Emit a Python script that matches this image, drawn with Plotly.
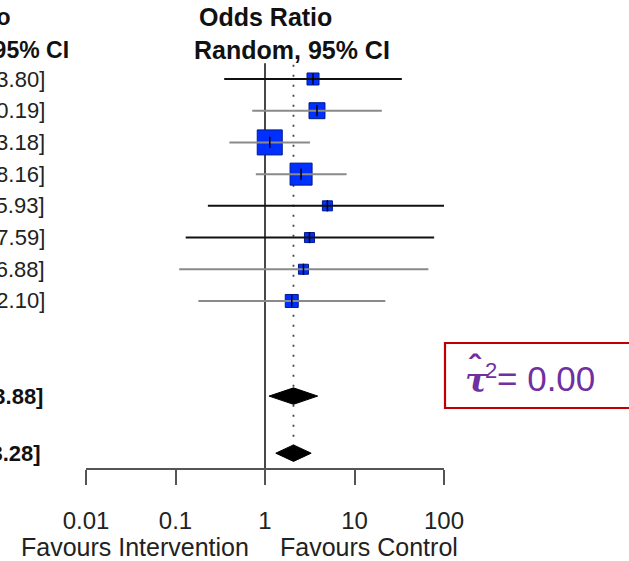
import math
import plotly.graph_objects as go

# ---------------- data ----------------
study_est = [3.44, 3.81, 1.13, 2.53, 4.98, 3.14, 2.69, 1.99]
study_lower = [0.35, 0.72, 0.40, 0.79, 0.23, 0.13, 0.11, 0.18]
study_upper = [33.80, 20.19, 3.18, 8.16, 105.93, 77.59, 66.88, 22.10]
study_weight = [7.3, 12.9, 31.6, 24.5, 5.1, 5.1, 5.1, 8.5]   # % weight

pooled_est = [2.08, 2.08]
pooled_lower = [1.11, 1.32]
pooled_upper = [3.88, 3.28]

tick_vals = [0.01, 0.1, 1, 10, 100]
tick_text = ["0.01", "0.1", "1", "10", "100"]
label_left = "Favours Intervention"
label_right = "Favours Control"
tau2_text = "0.00"

# ---------------- layout helpers ----------------
W, H = 629, 561
FONT = "Liberation Sans, Arial, Helvetica, sans-serif"
study_rows = list(range(1, len(study_est) + 1))
pooled_rows = [11, 12.8]
ci_colors = ["#111111", "#8a8a8a", "#8a8a8a", "#8a8a8a", "#111111", "#111111", "#8a8a8a", "#8a8a8a"]

row0_px, row_step = 79.0, 31.71
y_range = [1 + (H - row0_px) / row_step, 1 - row0_px / row_step]

fig = go.Figure()

# reference line at OR = 1
fig.add_trace(go.Scatter(x=[1, 1], y=[0.5, 13.3], mode="lines",
                         line=dict(color="#333333", width=1.8), hoverinfo="skip"))
# pooled estimate dotted line
fig.add_trace(go.Scatter(x=[pooled_est[0]] * 2, y=[0.55, 12.55], mode="lines",
                         line=dict(color="#444444", width=1.8, dash="2px,8px"), hoverinfo="skip"))

# squares
sizes = [4.45 * math.sqrt(w) for w in study_weight]
fig.add_trace(go.Scatter(x=study_est, y=study_rows, mode="markers",
                         marker=dict(symbol="square", size=sizes, color="#0030ff", opacity=1,
                                     line=dict(color="#001a8c", width=1)),
                         hoverinfo="skip"))
# CI lines
for r, lo, hi, c in zip(study_rows, study_lower, study_upper, ci_colors):
    fig.add_trace(go.Scatter(x=[lo, hi], y=[r, r], mode="lines",
                             line=dict(color=c, width=2), hoverinfo="skip"))
# estimate ticks
fig.add_trace(go.Scatter(x=study_est, y=study_rows, mode="markers",
                         marker=dict(symbol="line-ns", size=8, opacity=1,
                                     line=dict(color="#000000", width=1.5)),
                         hoverinfo="skip"))
# diamonds
dh = 0.26
for r, e, lo, hi in zip(pooled_rows, pooled_est, pooled_lower, pooled_upper):
    fig.add_trace(go.Scatter(x=[lo, e, hi, e, lo], y=[r, r - dh, r, r + dh, r],
                             mode="lines", fill="toself", fillcolor="#000000",
                             line=dict(color="#000000", width=1), hoverinfo="skip"))

ann = []
# left column texts (cut off by the figure edge)
for r, e, lo, hi in zip(study_rows, study_est, study_lower, study_upper):
    ann.append(dict(xref="paper", yref="y", x=47 / W, y=r, xanchor="right", yanchor="middle",
                    text=f"{e:.2f} [{lo:.2f}; {hi:.2f}]", showarrow=False,
                    font=dict(size=22, color="#222222", family=FONT)))
for r, e, lo, hi, xp in zip(pooled_rows, pooled_est, pooled_lower, pooled_upper, [45, 43]):
    ann.append(dict(xref="paper", yref="y", x=xp / W, y=r, xanchor="right", yanchor="middle",
                    text=f"<b>{e:.2f} [{lo:.2f}; {hi:.2f}]</b>", showarrow=False,
                    font=dict(size=22, color="#111111", family=FONT)))
ann.append(dict(xref="paper", yref="y", x=13 / W, y=-0.95, xanchor="right", yanchor="middle",
                text="<b>Odds Ratio</b>", showarrow=False,
                font=dict(size=23, color="#111111", family=FONT)))
ann.append(dict(xref="paper", yref="y", x=71 / W, y=0.09, xanchor="right", yanchor="middle",
                text="<b>OR        95% CI</b>", showarrow=False,
                font=dict(size=23, color="#111111", family=FONT)))
# plot header
ann.append(dict(xref="paper", yref="y", x=265 / W, y=-0.95, xanchor="center", yanchor="middle",
                text="<b>Odds Ratio</b>", showarrow=False,
                font=dict(size=25, color="#111111", family=FONT)))
ann.append(dict(xref="paper", yref="y", x=291.5 / W, y=0.09, xanchor="center", yanchor="middle",
                text="<b>Random, 95% CI</b>", showarrow=False,
                font=dict(size=25, color="#111111", family=FONT)))
# favours labels
ann.append(dict(xref="x", yref="paper", x=0, y=1 - 547 / H, xanchor="right", yanchor="middle",
                xshift=-14, text=label_left, showarrow=False,
                font=dict(size=25, color="#222222", family=FONT)))
ann.append(dict(xref="x", yref="paper", x=0, y=1 - 547 / H, xanchor="left", yanchor="middle",
                xshift=13, text=label_right, showarrow=False,
                font=dict(size=25, color="#222222", family=FONT)))
# tau^2 box
ann.append(dict(xref="paper", yref="paper", x=463 / W, y=1 - 380 / H, xanchor="left", yanchor="middle",
                text="<span style=\"font-family:'DejaVu Serif'\"><b><i>\u03c4</i></b></span>",
                showarrow=False, font=dict(size=34, color="#7030a0", family=FONT)))
ann.append(dict(xref="paper", yref="paper", x=483 / W, y=1 - 370 / H, xanchor="left", yanchor="middle",
                text="2", showarrow=False, font=dict(size=22, color="#7030a0", family=FONT)))
ann.append(dict(xref="paper", yref="paper", x=495 / W, y=1 - 378 / H, xanchor="left", yanchor="middle",
                text=f"= {tau2_text}", showarrow=False, font=dict(size=35, color="#7030a0", family=FONT)))
ann.append(dict(xref="paper", yref="paper", x=467 / W, y=1 - 366 / H, xanchor="left", yanchor="middle",
                text="<b>\u02c6</b>", showarrow=False,
                font=dict(size=34, color="#7030a0", family=FONT)))

shapes = [dict(type="rect", xref="paper", yref="paper", x0=445 / W, x1=1.05,
               y0=1 - 408 / H, y1=1 - 343 / H, line=dict(color="#c00000", width=2.2),
               fillcolor="rgba(0,0,0,0)")]

fig.update_layout(
    width=W, height=H, margin=dict(l=0, r=0, t=0, b=0, autoexpand=False),
    paper_bgcolor="white", plot_bgcolor="white", showlegend=False,
    xaxis=dict(type="log", range=[-2, 2], anchor="free", automargin=False,
               position=1 - 469 / H, domain=[86 / W, 444 / W],
               showline=True, linecolor="#555555", linewidth=2,
               ticks="outside", ticklen=15, tickwidth=2, tickcolor="#555555",
               tickvals=tick_vals, ticktext=tick_text, showgrid=False, zeroline=False,
               tickfont=dict(size=24, color="#222222", family=FONT), ticklabelstandoff=15),
    yaxis=dict(range=y_range, visible=False, domain=[0, 1], automargin=False),
    annotations=ann, shapes=shapes,
)

fig.write_html("out.html", config={"displayModeBar": False},
               post_script="document.body.style.margin='0';")
